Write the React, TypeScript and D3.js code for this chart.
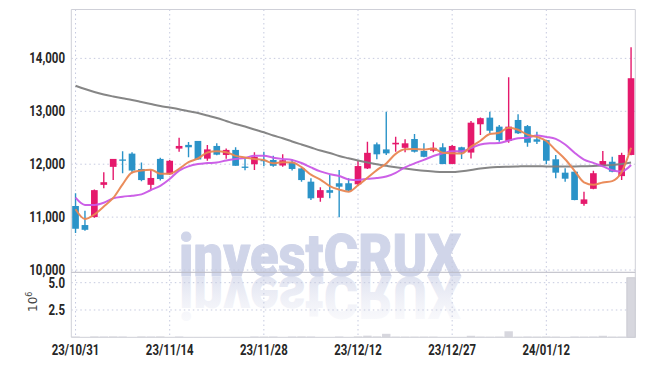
import React from "react";
import * as d3 from "d3";

const dates = [
  "23/10/31","23/11/01","23/11/02","23/11/03","23/11/06","23/11/07","23/11/08","23/11/09","23/11/10","23/11/13",
  "23/11/14","23/11/15","23/11/16","23/11/17","23/11/20","23/11/21","23/11/22","23/11/23","23/11/24","23/11/27",
  "23/11/28","23/11/29","23/11/30","23/12/01","23/12/04","23/12/05","23/12/06","23/12/07","23/12/08","23/12/11",
  "23/12/12","23/12/13","23/12/14","23/12/15","23/12/18","23/12/19","23/12/20","23/12/21","23/12/22","23/12/26",
  "23/12/27","23/12/28","24/01/02","24/01/03","24/01/04","24/01/05","24/01/08","24/01/09","24/01/10","24/01/11",
  "24/01/12","24/01/15","24/01/16","24/01/17","24/01/18","24/01/19","24/01/22","24/01/23","24/01/24","24/01/25",
];
const xTickLabels = ["23/10/31","23/11/14","23/11/28","23/12/12","23/12/27","24/01/12"];

const openP = [11210,10850,11000,11610,11950,12090,12200,11910,11610,12100,11810,12295,12365,12440,12105,12345,12175,12270,11955,12000,12080,12080,11975,12030,11920,11670,11365,11510,11640,11640,11620,11920,12376,12280,12375,12310,12476,12250,12255,12320,12005,12320,12220,12755,12880,12710,12440,12836,12720,12470,12455,12093,11840,11858,11250,11535,11965,12047,11775,12175];
const highP = [11450,11120,11520,11850,12100,12245,12225,12030,11890,12120,12080,12500,12420,12440,12365,12395,12295,12320,12110,12225,12235,12160,12190,12090,11935,11735,11565,11795,11890,11735,12065,12425,12410,12990,12520,12470,12570,12395,12415,12395,12365,12330,12815,12885,12992,12740,13643,12943,12740,12615,12460,12174,11922,11870,11480,11875,12250,12142,12218,14210];
const lowP = [10700,10740,10990,11545,11700,11830,11830,11680,11510,11690,11800,12236,12130,12090,12065,12170,12105,11970,11885,11890,11960,11950,11950,11880,11670,11325,11290,11355,10996,11490,11590,11910,12093,12175,12235,12225,12220,12130,12225,12000,12000,12098,12110,12550,12585,12425,12405,12570,12330,12380,12000,11735,11670,11320,11215,11525,11950,11850,11700,12170];
const closeP = [10780,10760,11510,11660,12100,12065,11880,11700,11740,11720,12065,12345,12320,12090,12280,12180,12270,11970,11940,12140,12070,11970,12075,11910,11700,11355,11510,11460,11575,11500,11965,12215,12187,12205,12405,12395,12236,12140,12310,12004,12345,12218,12785,12870,12633,12457,12710,12584,12406,12425,12066,11840,11726,11323,11335,11830,12060,11858,12175,13625];

const ma5 = [11150,10965,11050,11200,11362,11619,11843,11881,11897,11821,11821,11914,12038,12108,12220,12243,12228,12158,12128,12100,12078,12018,12039,12033,11945,11802,11710,11587,11520,11480,11602,11743,11888,12014,12195,12281,12286,12276,12297,12217,12207,12203,12332,12444,12570,12593,12691,12651,12558,12516,12438,12264,12093,11876,11658,11611,11655,11681,11852,12310];
const ma10 = [11367,11230,11230,11272,11355,11386,11405,11430,11512,11592,11720,11879,11960,12003,12021,12032,12071,12098,12118,12160,12161,12123,12099,12081,12023,11940,11864,11813,11777,11713,11702,11727,11738,11767,11838,11942,12015,12082,12156,12206,12244,12245,12304,12371,12394,12400,12447,12492,12501,12543,12516,12478,12372,12217,12087,12025,11960,11887,11864,11984];
const maLong = [13484,13422,13365,13318,13280,13246,13214,13176,13138,13100,13070,13038,13000,12968,12921,12873,12817,12760,12713,12656,12603,12543,12490,12429,12372,12316,12259,12212,12155,12112,12070,12032,11998,11970,11943,11919,11896,11875,11862,11853,11853,11868,11890,11919,11938,11947,11953,11958,11962,11962,11957,11955,11957,11958,11962,11966,11974,11985,12004,12032];

// volume in millions of shares
const volume = [0.07,0.02,0.08,0.07,0.08,0.07,0.02,0.08,0.07,0.08,0.02,0.07,0.02,0.02,0.02,0.02,0.02,0.02,0.02,0.07,0.06,0.07,0.02,0.07,0.08,0.07,0.02,0.02,0.07,0.02,0.08,0.15,0.08,0.32,0.06,0.06,0.06,0.06,0.06,0.02,0.02,0.02,0.14,0.06,0.05,0.06,0.55,0.05,0.07,0.06,0.07,0.06,0.02,0.07,0.06,0.07,0.14,0.06,0.06,5.45];

const priceTicks = [10000, 11000, 12000, 13000, 14000];
const volTicks = [2.5, 5.0];

const UP = "#e5196c";
const DOWN = "#2b93c8";
const GRID = "#c6cadf";
const FRAME = "#cfd0d8";
const FONT = "Roboto, 'Liberation Sans', sans-serif";
const WM = "#d0d5e9";

function NarrowText(props: { x: number; y: number; anchor: "start" | "middle" | "end"; size: number; sx: number; children: React.ReactNode }) {
  const { x, y, anchor, size, sx, children } = props;
  return (
    <g transform={`translate(${x},${y}) scale(${sx},1)`}>
      <text x={0} y={0} textAnchor={anchor} fontFamily={FONT} fontWeight={700} fontSize={size} fill="#262626">
        {children}
      </text>
    </g>
  );
}

export default function App() {
  const W = 645, H = 366;
  const left = 71.3, right = 635.3, top = 9.5, sep = 272.3, bottom = 337.3;
  const x = d3.scalePoint<string>().domain(dates).range([left, right]).padding(0.45);
  const yP = d3.scaleLinear().domain([9957, 14924]).range([sep, top]);
  const yV = d3.scaleLinear().domain([0, 5.95]).range([bottom, sep]);
  const step = x.step();
  const bw = step * 0.71;
  const fmt = d3.format(",");

  const line = (arr: number[]) =>
    d3.line<number>()
      .x((_, i) => x(dates[i]) as number)
      .y((d) => yP(d))
      .curve(d3.curveMonotoneX)(arr) as string;

  return (
    <svg width={W} height={H} style={{ position: "absolute", left: 0, top: 0, background: "#fff" }}>
      <defs>
        <clipPath id="pclip">
          <rect x={left} y={top} width={right - left} height={sep - top} />
        </clipPath>
        <linearGradient id="refl" gradientUnits="userSpaceOnUse" x1="0" y1="276" x2="0" y2="234">
          <stop offset="0" stopColor="#e0e3f0" stopOpacity={1} />
          <stop offset="1" stopColor="#f1f2f8" stopOpacity={0.5} />
        </linearGradient>
      </defs>

      {/* watermark */}
      <text x={179} y={276} fontFamily="Roboto, 'DejaVu Sans', sans-serif" fontWeight={900} fontSize={60}
        textLength={282} lengthAdjust="spacingAndGlyphs" fill={WM} stroke={WM} strokeWidth={1} strokeLinejoin="round">investCRUX</text>
      <g transform="translate(0,553) scale(1,-1)">
        <text x={179} y={276} fontFamily="Roboto, 'DejaVu Sans', sans-serif" fontWeight={900} fontSize={60}
          textLength={282} lengthAdjust="spacingAndGlyphs" fill="url(#refl)">investCRUX</text>
      </g>

      {/* grid */}
      {priceTicks.map((t) => (
        <line key={"hg" + t} x1={left} x2={right} y1={yP(t)} y2={yP(t)} stroke={GRID} strokeDasharray="1.5,3" strokeWidth={1} />
      ))}
      {volTicks.map((t) => (
        <line key={"vg" + t} x1={left} x2={right} y1={yV(t)} y2={yV(t)} stroke={GRID} strokeDasharray="1.5,3" strokeWidth={1} />
      ))}
      {xTickLabels.map((d) => (
        <line key={"xg" + d} x1={x(d)} x2={x(d)} y1={top} y2={bottom} stroke={GRID} strokeDasharray="1.5,3" strokeWidth={1} />
      ))}

      {/* volume bars */}
      {volume.map((v, i) => (
        <rect key={"v" + i} x={(x(dates[i]) as number) - step / 2 + 0.5} width={step - 1}
          y={yV(v)} height={bottom - yV(v)} fill="#d7d7de" stroke={i === volume.length - 1 ? "#c4c4cc" : "none"} strokeWidth={0.8} />
      ))}

      {/* candles and moving averages */}
      <g clipPath="url(#pclip)">
        {dates.map((d, i) => {
          const cx = x(d) as number;
          const o = openP[i], c = closeP[i];
          const col = c >= o ? UP : DOWN;
          const yt = yP(Math.max(o, c));
          const yb = yP(Math.min(o, c));
          return (
            <g key={"c" + i}>
              <line x1={cx} x2={cx} y1={yP(highP[i])} y2={yP(lowP[i])} stroke={col} strokeWidth={1.4} />
              <rect x={cx - bw / 2} width={bw} y={yt} height={Math.max(1.3, yb - yt)} fill={col} />
            </g>
          );
        })}
        <path d={line(maLong)} fill="none" stroke="#808080" strokeWidth={2} opacity={0.95} />
        <path d={line(ma10)} fill="none" stroke="#c957e6" strokeWidth={2} opacity={0.95} />
        <path d={line(ma5)} fill="none" stroke="#e98652" strokeWidth={2} opacity={0.95} />
      </g>

      {/* frame */}
      <line x1={left} x2={right} y1={top} y2={top} stroke={FRAME} />
      <line x1={right} x2={right} y1={top} y2={bottom} stroke={FRAME} />
      <line x1={left} x2={left} y1={top} y2={bottom} stroke={FRAME} />
      <line x1={left} x2={right} y1={sep} y2={sep} stroke="#b9bac4" />
      <line x1={left} x2={right} y1={bottom} y2={bottom} stroke={FRAME} />

      {/* y labels */}
      {priceTicks.map((t) => (
        <NarrowText key={"yl" + t} x={65} y={yP(t) + 5} anchor="end" size={14} sx={0.82}>{fmt(t)}</NarrowText>
      ))}
      {volTicks.map((t) => (
        <NarrowText key={"vl" + t} x={65} y={yV(t) + 5.5} anchor="end" size={14} sx={0.82}>{t.toFixed(1)}</NarrowText>
      ))}
      <text transform="translate(37,312) rotate(-90)" fontFamily="'DejaVu Sans', sans-serif" fontSize={12} fill="#444">
        10<tspan dy={-5} fontSize={8}>6</tspan>
      </text>

      {/* x labels */}
      {xTickLabels.map((d) => (
        <NarrowText key={"xl" + d} x={x(d) as number} y={355} anchor="middle" size={15} sx={0.76}>{d}</NarrowText>
      ))}
    </svg>
  );
}
